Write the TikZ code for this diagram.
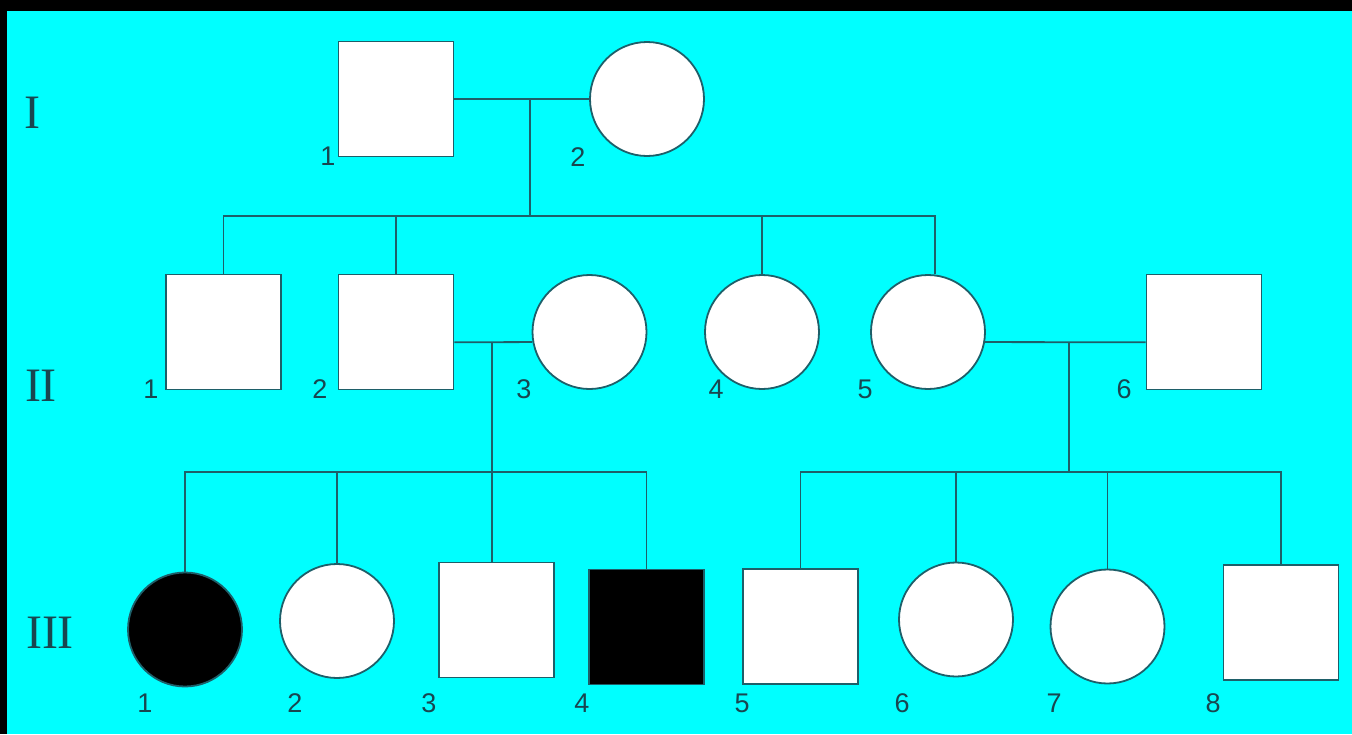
\documentclass[tikz,border=0pt]{standalone}
\usepackage{fontspec}
\setmainfont{Liberation Serif}
\newfontfamily\numfont{Liberation Sans}
\definecolor{bgcyan}{RGB}{0,255,255}
\definecolor{pedline}{RGB}{30,95,105}
\definecolor{pedtext}{RGB}{25,70,80}
\tikzset{
  male/.style={rectangle, draw=pedline, line width=1.8pt, fill=white, minimum width=115pt, minimum height=115pt, inner sep=0pt},
  female/.style={circle, draw=pedline, line width=1.8pt, fill=white, minimum size=114pt, inner sep=0pt},
  affected/.style={fill=black},
  link/.style={draw=pedline, line width=1.8pt},
  num/.style={inner sep=0pt, text=pedtext, font=\numfont\fontsize{27}{27}\selectfont},
  gen/.style={inner sep=0pt, text=pedtext, font=\fontsize{48}{48}\selectfont},
}
\begin{document}
\begin{tikzpicture}[x=1pt,y=-1pt]
\useasboundingbox (0,0) rectangle (1352,734);
\fill[black] (0,0) rectangle (1352,734);
\fill[bgcyan] (7,11) rectangle (1352,734);

% generation labels
\node[gen] (gI) at (32,113) {I};
\node[gen] (gII) at (41,386) {II};
\node[gen] (gIII) at (50,633) {III};

% generation I
\node[male] (I1) at (396,99) {};
\node[female] (I2) at (647,99) {};
\node[num] (nI1) at (328,156) {1};
\node[num] (nI2) at (578,157) {2};

% generation II
\node[male] (II1) at (223.5,332) {};
\node[male] (II2) at (396,332) {};
\node[female] (II3) at (589.5,332) {};
\node[female] (II4) at (762,332) {};
\node[female] (II5) at (928,332) {};
\node[male] (II6) at (1204,332) {};
\node[num] (nII1) at (151,389) {1};
\node[num] (nII2) at (320,389) {2};
\node[num] (nII3) at (524,389) {3};
\node[num] (nII4) at (716,389) {4};
\node[num] (nII5) at (865,389) {5};
\node[num] (nII6) at (1124,389) {6};

% generation III
\node[female,affected] (III1) at (185,629.5) {};
\node[female] (III2) at (337,621) {};
\node[male] (III3) at (496.5,620) {};
\node[male,affected] (III4) at (646.5,627) {};
\node[male] (III5) at (800.5,626.5) {};
\node[female] (III6) at (956,619.5) {};
\node[female] (III7) at (1107.5,626.5) {};
\node[male] (III8) at (1281,622.5) {};
\node[num] (nIII1) at (145,703) {1};
\node[num] (nIII2) at (295,703) {2};
\node[num] (nIII3) at (429,703) {3};
\node[num] (nIII4) at (582,703) {4};
\node[num] (nIII5) at (742,703) {5};
\node[num] (nIII6) at (902,703) {6};
\node[num] (nIII7) at (1054,703) {7};
\node[num] (nIII8) at (1213,703) {8};

% junction points
\coordinate (m1) at (530,99);
\coordinate (s1) at (530,216);
\coordinate (m2) at (492,342);
\coordinate (s2) at (492,472);
\coordinate (m3) at (1069,342);
\coordinate (s3) at (1069,472);

% generation I -> II
\draw[link] (I1.east) -- (I2.west);
\draw[link] (m1) -- (s1);
\draw[link] (II1.north) |- (s1);
\draw[link] ([xshift=7pt]II5.north) |- (s1);
\draw[link] (II2.north) -- (II2.north |- s1);
\draw[link] (II4.north) -- (II4.north |- s1);

% marriages in generation II
\draw[link] (II2.-10) -- (II3.190);
\draw[link] (II5.-10) -- (II6.190);

% generation II -> III (left family)
\draw[link] (m2) -- (s2) -- (s2 |- III3.north);
\draw[link] (III1.north) |- (s2);
\draw[link] (III4.north) |- (s2);
\draw[link] (III2.north) -- (III2.north |- s2);

% generation II -> III (right family)
\draw[link] (m3) -- (s3);
\draw[link] (III5.north) |- (s3);
\draw[link] (III8.north) |- (s3);
\draw[link] (III6.north) -- (III6.north |- s3);
\draw[link] (III7.north) -- (III7.north |- s3);
\end{tikzpicture}
\end{document}
